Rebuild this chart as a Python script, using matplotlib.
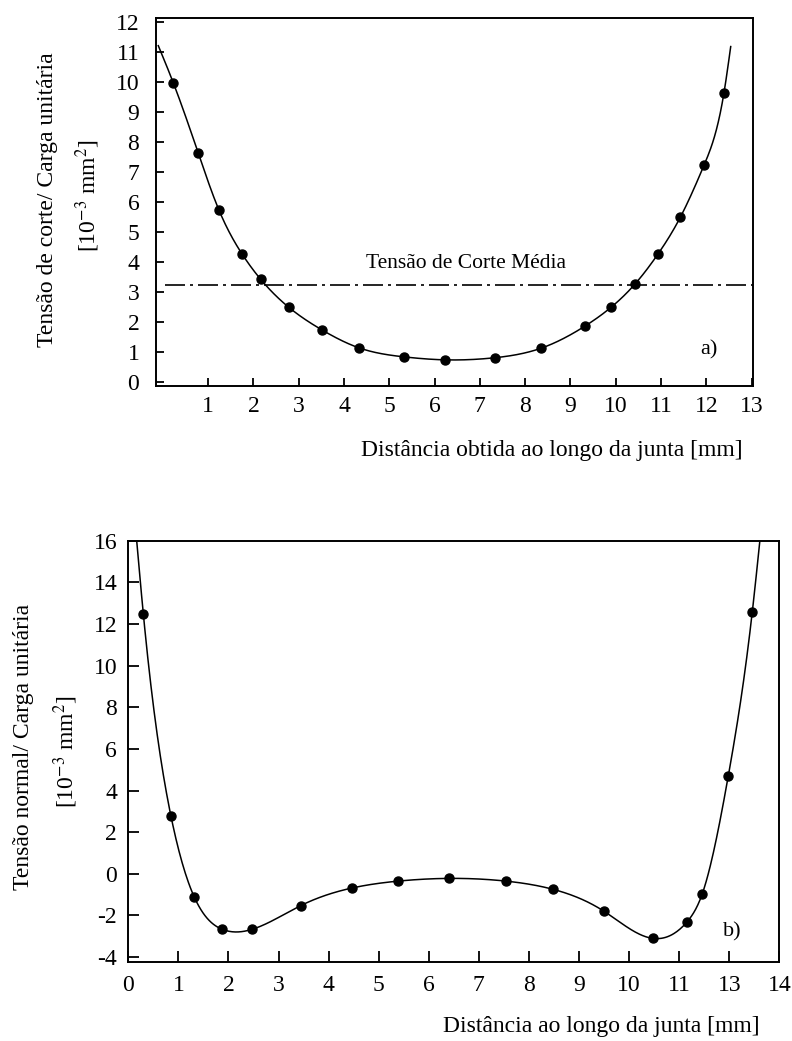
import numpy as np
import matplotlib
matplotlib.use('Agg')
import matplotlib.pyplot as plt

plt.rcParams['font.family'] = ['Liberation Serif', 'DejaVu Serif']
plt.rcParams['mathtext.fontset'] = 'stix'
plt.rcParams['axes.unicode_minus'] = False

# a) shear stress / unit load
shear_x = [0.23, 0.78, 1.24, 1.75, 2.16, 2.78, 3.52, 4.33, 5.32, 6.23,
           7.33, 8.34, 9.33, 9.90, 10.42, 10.93, 11.43, 11.95, 12.39]
shear_y = [9.97, 7.64, 5.73, 4.27, 3.43, 2.50, 1.74, 1.15, 0.85, 0.75,
           0.82, 1.13, 1.88, 2.50, 3.26, 4.26, 5.50, 7.22, 9.62]
shear_curve_ends = [(-0.10, 11.2), (12.54, 11.17)]
shear_mean = 3.24

# b) normal stress / unit load (x in tick positions, labels skip 12)
normal_x = [0.30, 0.85, 1.32, 1.87, 2.48, 3.44, 4.47, 5.39, 6.41,
            7.54, 8.49, 9.50, 10.47, 11.16, 11.46, 11.98, 12.46]
normal_y = [12.48, 2.79, -1.13, -2.66, -2.66, -1.53, -0.68, -0.35, -0.22,
            -0.35, -0.75, -1.80, -3.10, -2.30, -0.97, 4.69, 12.58]
normal_curve_ends = [(0.16, 16.2), (12.62, 16.2)]
normal_xticklabels = ['0', '1', '2', '3', '4', '5', '6', '7', '8', '9',
                      '10', '11', '13', '14']


def smooth(xk, yk, n=600):
    # natural cubic spline through the knots
    xk = np.asarray(xk, float)
    yk = np.asarray(yk, float)
    m = len(xk)
    h = np.diff(xk)
    A = np.zeros((m, m))
    r = np.zeros(m)
    A[0, 0] = A[-1, -1] = 1
    for i in range(1, m - 1):
        A[i, i - 1] = h[i - 1]
        A[i, i] = 2 * (h[i - 1] + h[i])
        A[i, i + 1] = h[i]
        r[i] = 6 * ((yk[i + 1] - yk[i]) / h[i] - (yk[i] - yk[i - 1]) / h[i - 1])
    M = np.linalg.solve(A, r)
    xs = np.linspace(xk[0], xk[-1], n)
    i = np.clip(np.searchsorted(xk, xs) - 1, 0, m - 2)
    hi = h[i]
    a = xk[i + 1] - xs
    b = xs - xk[i]
    ys = (M[i] * a ** 3 + M[i + 1] * b ** 3) / (6 * hi) \
        + (yk[i] / hi - M[i] * hi / 6) * a + (yk[i + 1] / hi - M[i + 1] * hi / 6) * b
    return xs, ys


fs = 17
fig = plt.figure(figsize=(7.92, 10.41), dpi=100)

# ---- panel a
ax1 = fig.add_axes([0.1970, 0.6292, 0.7542, 0.3535])
kx = [shear_curve_ends[0][0]] + shear_x + [shear_curve_ends[1][0]]
ky = [shear_curve_ends[0][1]] + shear_y + [shear_curve_ends[1][1]]
cx, cy = smooth(kx, ky)
ax1.plot(cx, cy, color='black', lw=1.1)
ax1.plot(shear_x, shear_y, 'o', color='black', ms=6.5)
ax1.axhline(shear_mean, xmin=0.015, color='black', lw=1.2, dashes=(12, 3, 1.8, 3))
ax1.text(6.70, 3.94, 'Tensão de Corte Média', ha='center', va='center', fontsize=15.5)
ax1.text(12.05, 1.08, 'a)', ha='center', va='center', fontsize=16)
ax1.set_xlim(-0.15, 13.04)
ax1.set_ylim(-0.12, 12.12)
ax1.set_xticks(range(1, 14))
ax1.set_yticks(range(0, 13))
ax1.tick_params(direction='in', length=6, width=1.3, labelsize=fs)
ax1.tick_params(axis='y', pad=12)
ax1.tick_params(axis='x', pad=7)
for s in ax1.spines.values():
    s.set_linewidth(1.4)

fig.text(0.0606, 0.808, 'Tensão de corte/ Carga unitária', rotation=90,
         ha='center', va='center', fontsize=fs)
fig.text(0.111, 0.812, r'[10$^{-3}$ mm$^{2}$]', rotation=90,
         ha='center', va='center', fontsize=fs)
fig.text(0.697, 0.5668, 'Distância obtida ao longo da junta [mm]',
         ha='center', va='center', fontsize=fs)

# ---- panel b
ax2 = fig.add_axes([0.1620, 0.0756, 0.8220, 0.4050])
kx = [normal_curve_ends[0][0]] + normal_x + [normal_curve_ends[1][0]]
ky = [normal_curve_ends[0][1]] + normal_y + [normal_curve_ends[1][1]]
cx, cy = smooth(kx, ky)
ax2.plot(cx, cy, color='black', lw=1.1)
ax2.plot(normal_x, normal_y, 'o', color='black', ms=6.5)
ax2.text(12.07, -2.77, 'b)', ha='center', va='center', fontsize=16)
ax2.set_xlim(0, 13)
ax2.set_ylim(-4.25, 16)
ax2.set_xticks(range(14))
ax2.set_xticklabels(normal_xticklabels)
ax2.set_yticks(range(-4, 17, 2))
ax2.tick_params(direction='in', length=8, width=1.3, labelsize=fs)
ax2.tick_params(axis='y', pad=8)
ax2.tick_params(axis='x', pad=9)
for s in ax2.spines.values():
    s.set_linewidth(1.4)

fig.text(0.0303, 0.2824, 'Tensão normal/ Carga unitária', rotation=90,
         ha='center', va='center', fontsize=fs)
fig.text(0.0833, 0.2786, r'[10$^{-3}$ mm$^{2}$]', rotation=90,
         ha='center', va='center', fontsize=fs)
fig.text(0.7588, 0.0144, 'Distância ao longo da junta [mm]',
         ha='center', va='center', fontsize=fs)

fig.savefig('out.png', dpi=100)
